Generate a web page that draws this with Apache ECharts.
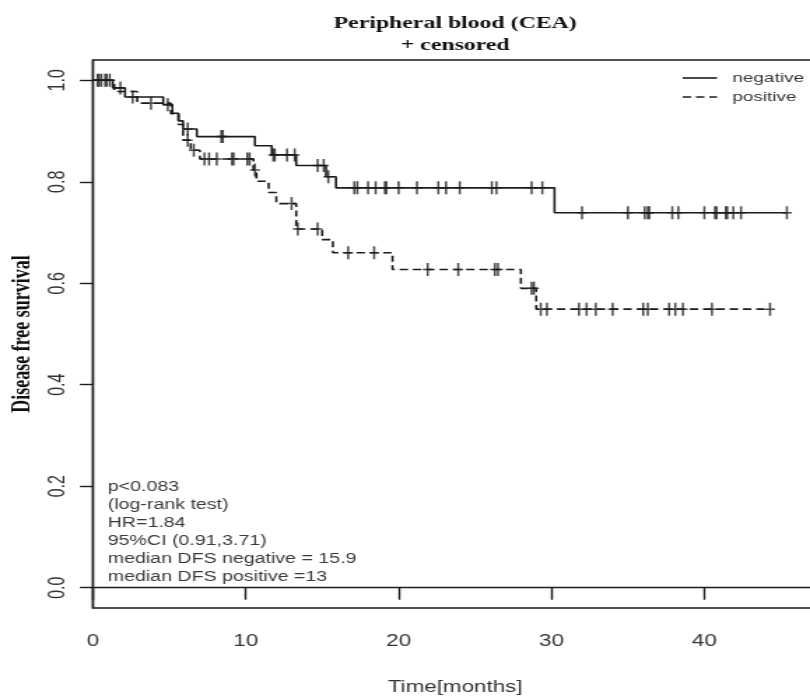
<!DOCTYPE html>
<html><head><meta charset="utf-8">
<script src="https://cdn.jsdelivr.net/npm/echarts@6/dist/echarts.min.js"></script>
<style>
html,body{margin:0;padding:0;background:#fff;overflow:hidden;width:810px;height:697px}
#chart{width:579px;height:697px;transform:scaleX(1.399);transform-origin:0 0}
</style></head><body><div id="chart"></div>
<script>
// Kaplan-Meier step data (time in months, survival after the step)
const negTimes = [0, 1.3, 2.1, 4.6, 5.2, 5.6, 5.9, 6.8, 10.6, 11.7, 13.3, 15.25, 15.9, 30.2];
const negSurv  = [1.0, 0.985, 0.967, 0.952, 0.935, 0.920, 0.904, 0.889, 0.871, 0.853, 0.832, 0.810, 0.788, 0.739];
const negCensor = [0.3, 0.55, 0.8, 1.1, 1.8, 2.6, 4.9, 6.2, 8.4, 8.5, 11.8, 11.9, 12.7, 13.2, 14.7, 15.1, 15.4,
  17.1, 17.3, 18.0, 18.5, 19.1, 19.2, 20.0, 21.2, 22.6, 23.1, 24.0, 26.1, 26.4, 28.7, 29.4,
  32.0, 35.0, 36.1, 36.3, 36.4, 37.9, 38.3, 40.0, 40.7, 40.8, 41.4, 41.5, 41.9, 42.4, 45.4];

const posTimes = [0, 1.4, 2.9, 5.1, 5.6, 5.9, 6.4, 7.0, 10.5, 10.7, 11.5, 12.0, 13.3, 15.0, 15.7, 19.6, 28.0, 29.0];
const posSurv  = [1.0, 0.978, 0.955, 0.934, 0.913, 0.882, 0.862, 0.845, 0.823, 0.801, 0.779, 0.757, 0.707, 0.686, 0.660, 0.627, 0.590, 0.549];
const posCensor = [0.4, 0.9, 3.8, 6.2, 6.6, 7.3, 7.6, 8.1, 9.1, 9.2, 10.1, 10.25, 10.6, 13.0, 13.4, 14.7,
  16.7, 18.4, 21.9, 23.9, 26.3, 26.5, 28.7, 28.85, 29.3, 29.7, 31.8, 32.3, 32.9, 34.0,
  36.0, 36.3, 37.7, 38.1, 38.6, 40.5, 44.3];

const seriesNames = ['negative', 'positive'];
const xTicks = [0, 10, 20, 30, 40];
const yTicks = [0, 0.2, 0.4, 0.6, 0.8, 1.0];
const titleLines = ['Peripheral blood (CEA)', '+ censored'];
const xTitle = 'Time[months]';
const yTitle = 'Disease free survival';
const annotationLines = ['p<0.083', '(log-rank test)', 'HR=1.84', '95%CI (0.91,3.71)',
  'median DFS negative = 15.9', 'median DFS positive =13'];

function survAt(times, surv, t) {
  let s = surv[0];
  for (let i = 0; i < times.length; i++) if (times[i] <= t) s = surv[i];
  return s;
}
function curve(times, surv, censor) {
  const d = times.map((t, i) => [t, surv[i]]);
  d.push([Math.max(...censor), surv[surv.length - 1]]);
  return d;
}
function marks(times, surv, censor) {
  return censor.map(t => [t, survAt(times, surv, t)]);
}

const INK = '#1c1c1c';
const TXT = '#333333';
const DASH = [6, 3.5];
const plus = 'path://M27.5,0H42.5V57.5H70V72.5H42.5V130H27.5V72.5H0V57.5H27.5Z';
const gridLeft = 66.4, gridTop = 60, gridRight = -5.3, gridBottom = 89;
const plotCenterX = gridLeft + (579 - gridRight - gridLeft) / 2;

// legend drawn as graphic (line sample + label)
const legX0 = 488, legX1 = 512.5, legTextX = 523.6, legY = [78, 97];
const legendGraphic = [];
seriesNames.forEach((n, i) => {
  legendGraphic.push({type: 'line', shape: {x1: legX0, y1: legY[i], x2: legX1, y2: legY[i]},
    style: {stroke: INK, lineWidth: 1.6, lineDash: i === 0 ? null : DASH}});
  legendGraphic.push({type: 'text', x: legTextX, y: legY[i], style: {text: n, fill: TXT,
    font: '13.5px "Liberation Sans"', align: 'left', verticalAlign: 'middle',
    textAlign: 'left', textVerticalAlign: 'middle'}});
});

const chart = echarts.init(document.getElementById('chart'), null, {renderer: 'canvas'});
chart.setOption({
  animation: false,
  backgroundColor: '#ffffff',
  grid: {left: gridLeft, top: gridTop, right: gridRight, bottom: gridBottom,
    show: true, borderColor: INK, borderWidth: 1.4, containLabel: false, outerBoundsMode: 'none'},
  xAxis: {
    type: 'value', min: 0, max: 47.4,
    axisLine: {show: true, lineStyle: {color: INK, width: 1.4}},
    axisTick: {show: true, length: 12, customValues: xTicks, lineStyle: {color: INK, width: 1.4}},
    axisLabel: {customValues: xTicks, margin: 26, fontFamily: 'Liberation Sans', fontSize: 16, color: TXT},
    splitLine: {show: false},
    name: xTitle, nameLocation: 'middle', nameGap: 72,
    nameTextStyle: {fontFamily: 'Liberation Sans', fontSize: 16, color: TXT}
  },
  yAxis: {
    type: 'value', min: -0.04, max: 1.04,
    axisLine: {show: true, lineStyle: {color: INK, width: 1.4}},
    axisTick: {show: true, length: 9.3, customValues: yTicks, lineStyle: {color: INK, width: 1.4}},
    axisLabel: {customValues: yTicks, rotate: 90, margin: 17, formatter: v => v.toFixed(1),
      fontFamily: 'Liberation Sans', fontSize: 16, color: TXT},
    splitLine: {show: false},
    name: yTitle, nameLocation: 'middle', nameGap: 40, nameRotate: 90,
    nameTextStyle: {fontFamily: 'Liberation Serif', fontWeight: 'bold', fontSize: 18, color: '#111'}
  },
  graphic: [
    {type: 'text', x: plotCenterX, y: 23.5, style: {text: titleLines[0], fill: '#111',
      font: 'bold 17px "Liberation Serif"', align: 'center', verticalAlign: 'middle',
      textAlign: 'center', textVerticalAlign: 'middle'}},
    {type: 'text', x: plotCenterX, y: 46, style: {text: titleLines[1], fill: '#111',
      font: 'bold 17px "Liberation Serif"', align: 'center', verticalAlign: 'middle',
      textAlign: 'center', textVerticalAlign: 'middle'}},
    {type: 'text', x: 77, y: 478, style: {text: annotationLines.join('\n'), fill: '#3a3a3a',
      font: '14px "Liberation Sans"', lineHeight: 18, align: 'left', verticalAlign: 'top',
      textAlign: 'left', textVerticalAlign: 'top'}}
  ].concat(legendGraphic),
  series: [
    {name: seriesNames[0], type: 'line', step: 'end', symbol: 'none', showSymbol: false,
      data: curve(negTimes, negSurv, negCensor), lineStyle: {color: INK, width: 1.6, type: 'solid'},
      itemStyle: {color: INK}, z: 3},
    {name: seriesNames[1], type: 'line', step: 'end', symbol: 'none', showSymbol: false,
      data: curve(posTimes, posSurv, posCensor), lineStyle: {color: INK, width: 1.6, type: DASH},
      itemStyle: {color: INK}, z: 3},
    {name: 'negative censored', type: 'scatter', symbol: plus, symbolSize: [7, 13],
      data: marks(negTimes, negSurv, negCensor), itemStyle: {color: INK}, z: 4},
    {name: 'positive censored', type: 'scatter', symbol: plus, symbolSize: [7, 13],
      data: marks(posTimes, posSurv, posCensor), itemStyle: {color: INK}, z: 4}
  ]
});
</script></body></html>
